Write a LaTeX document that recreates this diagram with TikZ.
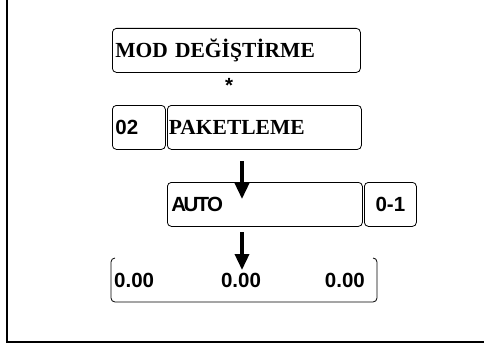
\documentclass[tikz,border=0pt]{standalone}
\usepackage{fontspec}
\setmainfont{Liberation Serif}
\setsansfont{Liberation Sans}
\usetikzlibrary{arrows.meta}

\tikzset{
  lcd/.style={draw=black, line width=0.8pt, rounded corners=4pt, anchor=north west,
    inner xsep=3pt, inner ysep=0pt, minimum height=44pt, text height=14pt, text depth=0pt, align=left},
  serifbf/.style={font=\fontsize{21.5}{25}\selectfont\bfseries},
  sansbf/.style={font=\sffamily\fontsize{20.5}{24}\selectfont\bfseries},
  val/.style={sansbf, inner xsep=3pt, inner ysep=0pt, text height=14pt, text depth=0pt},
  down/.style={line width=3.5pt, -{Triangle[width=14pt,length=16pt]}},
}

\begin{document}
\begin{tikzpicture}[x=1pt,y=-1pt]
\useasboundingbox (0,0) rectangle (484,345);
\draw[line width=2pt] (6.5,0) -- (6.5,342) -- (484,342);

\node[lcd, serifbf, text width=242pt] (mode) at (112,28) {MOD DEĞİŞTİRME};
\node[sansbf, inner sep=0pt] (star) at (229,85) {*};

\node[lcd, sansbf, text width=47pt] (num) at (112,105) {02};
\node[lcd, serifbf, inner xsep=1.5pt, text width=191pt] (pack) at (167,105) {PAKETLEME};

\node[lcd, sansbf, inner xsep=4pt, text width=187pt] (auto) at (167,182) {A\kern-2.5pt U\kern-2pt T\kern-2pt O};
\node[lcd, sansbf, align=center, text width=46pt] (range) at (364,182) {0-1};

% display without top edge
\coordinate (valsnw) at (111,258);
\coordinate (valsse) at (377,302);
\draw[line width=0.8pt, rounded corners=4pt] ([xshift=4pt]valsnw) -- (valsnw) -- (valsnw |- valsse)
  -- (valsse) -- (valsse |- valsnw) -- ([xshift=-4pt]valsse |- valsnw);
\node[val, anchor=west] (valA) at (111,280) {0.00};
\node[val] (valB) at (241,280) {0.00};
\node[val, anchor=east] (valC) at (368,280) {0.00};

\coordinate (arrA) at (242,161);
\coordinate (arrAend) at (242,199);
\coordinate (arrB) at (242,232);
\coordinate (arrBend) at (242,270);
\draw[down] (arrA) -- (arrAend);
\draw[down] (arrB) -- (arrBend);

\end{tikzpicture}
\end{document}
